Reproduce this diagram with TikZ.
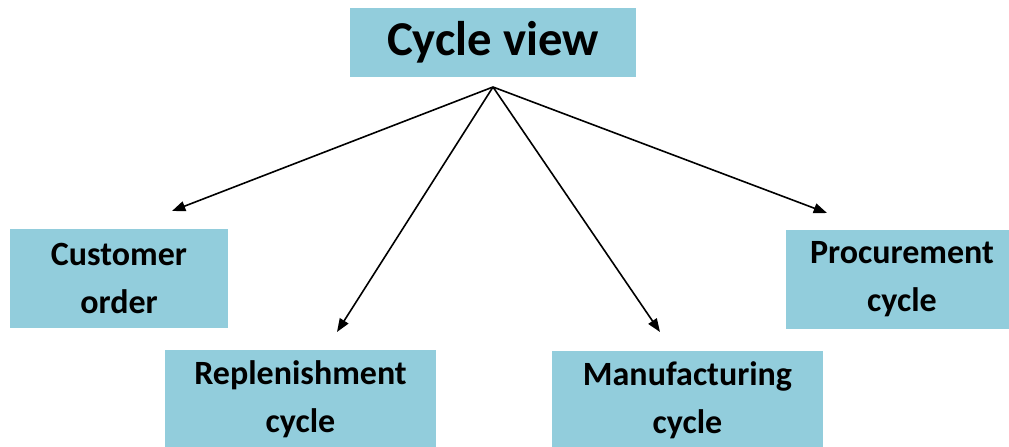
\documentclass[tikz,border=0pt]{standalone}
\usepackage{fontspec}
\setmainfont{Carlito}
\usepackage{tikz}
\usetikzlibrary{arrows.meta,calc}
\definecolor{boxblue}{HTML}{92CDDC}

\begin{document}
\begin{tikzpicture}[x=0.75pt,y=-0.75pt,
    cyclebox/.style={fill=boxblue, inner sep=0pt, align=center,
      minimum height=74.25pt, font=\bfseries\fontsize{25.5}{36}\selectfont},
    link/.style={line width=1.2pt, -{Triangle[length=10pt,width=7.5pt]}}]
        \useasboundingbox (0,0) rectangle (1009,446);
        \clip (0,0) rectangle (1009,446);
        % Top box
        \node[cyclebox, minimum width=214.5pt, minimum height=51.75pt,
          font=\bfseries\fontsize{36.5}{40}\selectfont] (view) at (493,42.5) {Cycle view};
        % The four cycles
        \node[cyclebox, minimum width=163.5pt] (order) at (119,278.5) {Customer\\order};
        \node[cyclebox, minimum width=203.25pt] (replen) at (300.5,399.5) {Replenishment\\cycle};
        \node[cyclebox, minimum width=203.25pt] (manuf) at (687.5,400.5) {Manufacturing\\cycle};
        \node[cyclebox, minimum width=174pt] (procure) at (902,279) {Procurement\\cycle};
        % Apex under the top box and arrow tips
        \coordinate (apex) at (493,87);
        \coordinate (tipO) at (172,211);
        \coordinate (tipR) at (337,332);
        \coordinate (tipM) at (660,332);
        \coordinate (tipP) at (827,213);
        \foreach \t in {tipO,tipR,tipM,tipP}
          \draw[link] (apex) -- (\t);
      \end{tikzpicture}
\end{document}
